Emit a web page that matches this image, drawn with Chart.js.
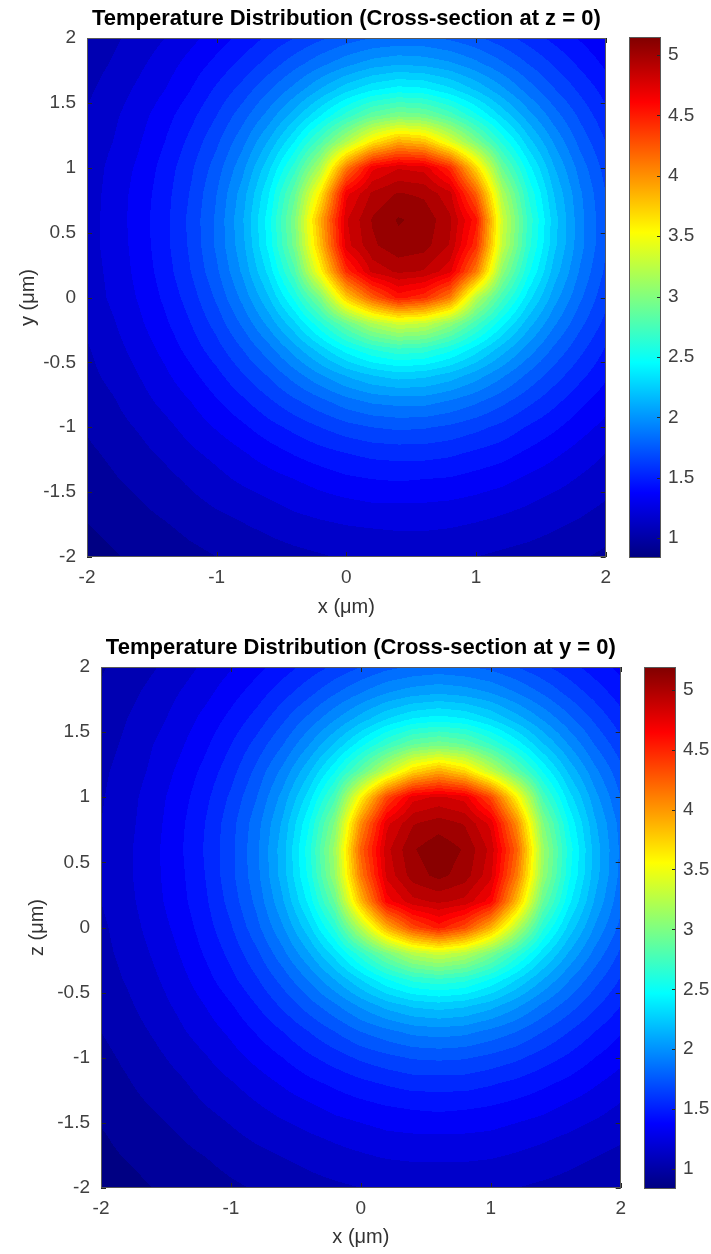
<!DOCTYPE html>
<html><head><meta charset="utf-8">
<script src="https://cdn.jsdelivr.net/npm/chart.js@4.4.1/dist/chart.umd.min.js"></script>
<style>
html,body{margin:0;padding:0;background:#fff;width:711px;height:1254px;overflow:hidden;}
.box{position:absolute;}
canvas{display:block;}
</style></head><body>
<div class="box" style="left:0;top:0;"><canvas id="map1" width="620" height="625"></canvas></div>
<div class="box" style="left:620px;top:0;"><canvas id="cb1" width="91" height="625"></canvas></div>
<div class="box" style="left:0;top:629px;"><canvas id="map2" width="635" height="625"></canvas></div>
<div class="box" style="left:635px;top:629px;"><canvas id="cb2" width="76" height="625"></canvas></div>
<script>
// ---- data ----
const xGrid = [-2,-1.8,-1.6,-1.4,-1.2,-1,-0.8,-0.6,-0.4,-0.2,0,0.2,0.4,0.6,0.8,1,1.2,1.4,1.6,1.8,2];
const yGrid = [2,1.8,1.6,1.4,1.2,1,0.8,0.6,0.4,0.2,0,-0.2,-0.4,-0.6,-0.8,-1,-1.2,-1.4,-1.6,-1.8,-2];

// temperature, cross-section z = 0 (rows: y from 2 down to -2, cols: x from -2 to 2)
const tempZ0 = [
[1.02,1.08,1.14,1.20,1.27,1.35,1.43,1.52,1.60,1.68,1.75,1.80,1.82,1.82,1.78,1.72,1.64,1.56,1.47,1.39,1.31],
[1.05,1.11,1.18,1.25,1.34,1.43,1.53,1.64,1.76,1.87,1.97,2.05,2.09,2.07,2.02,1.93,1.82,1.70,1.59,1.48,1.38],
[1.08,1.15,1.22,1.30,1.40,1.52,1.64,1.79,1.94,2.11,2.27,2.39,2.45,2.43,2.33,2.19,2.03,1.86,1.71,1.58,1.46],
[1.11,1.18,1.26,1.36,1.47,1.60,1.76,1.94,2.16,2.40,2.65,2.87,2.98,2.94,2.77,2.53,2.28,2.05,1.85,1.68,1.53],
[1.13,1.20,1.29,1.40,1.53,1.68,1.87,2.11,2.40,2.77,3.19,3.62,3.89,3.80,3.41,2.98,2.58,2.25,1.99,1.77,1.60],
[1.14,1.23,1.32,1.44,1.58,1.75,1.97,2.27,2.65,3.19,4.10,4.67,4.79,4.76,4.45,3.70,2.90,2.45,2.11,1.86,1.66],
[1.15,1.24,1.34,1.46,1.61,1.80,2.05,2.39,2.87,3.62,4.67,4.92,5.01,4.98,4.83,4.22,3.19,2.60,2.20,1.92,1.70],
[1.16,1.24,1.35,1.47,1.63,1.82,2.09,2.45,2.98,3.89,4.79,5.01,5.11,5.07,4.92,4.54,3.34,2.68,2.25,1.94,1.72],
[1.16,1.24,1.34,1.47,1.62,1.82,2.07,2.43,2.94,3.80,4.76,4.98,5.07,5.04,4.89,4.43,3.29,2.65,2.23,1.94,1.71],
[1.15,1.23,1.33,1.45,1.60,1.78,2.02,2.33,2.77,3.55,4.43,4.83,4.92,4.89,4.73,4.10,3.06,2.53,2.16,1.89,1.68],
[1.14,1.22,1.31,1.42,1.55,1.72,1.93,2.19,2.53,2.98,3.75,4.22,4.54,4.43,4.10,3.23,2.74,2.35,2.05,1.82,1.63],
[1.12,1.19,1.28,1.38,1.50,1.64,1.82,2.03,2.28,2.58,2.90,3.19,3.34,3.29,3.06,2.74,2.43,2.15,1.92,1.73,1.57],
[1.09,1.16,1.24,1.33,1.44,1.56,1.70,1.86,2.05,2.25,2.45,2.60,2.68,2.65,2.53,2.35,2.15,1.96,1.78,1.63,1.49],
[1.07,1.13,1.20,1.28,1.37,1.47,1.59,1.71,1.85,1.99,2.11,2.20,2.25,2.23,2.16,2.05,1.92,1.78,1.65,1.53,1.42],
[1.04,1.09,1.16,1.23,1.30,1.39,1.48,1.58,1.68,1.77,1.86,1.92,1.94,1.94,1.89,1.82,1.73,1.63,1.53,1.43,1.34],
[1.01,1.06,1.11,1.17,1.24,1.31,1.38,1.46,1.53,1.60,1.66,1.70,1.72,1.71,1.68,1.63,1.57,1.49,1.42,1.34,1.27],
[0.98,1.02,1.07,1.12,1.18,1.23,1.29,1.35,1.41,1.46,1.50,1.53,1.54,1.54,1.52,1.48,1.44,1.38,1.32,1.26,1.20],
[0.95,0.99,1.03,1.07,1.12,1.17,1.22,1.26,1.30,1.34,1.38,1.40,1.41,1.40,1.39,1.36,1.33,1.28,1.24,1.19,1.14],
[0.92,0.95,0.99,1.03,1.07,1.11,1.14,1.18,1.22,1.25,1.27,1.29,1.29,1.29,1.28,1.26,1.23,1.20,1.16,1.13,1.09],
[0.89,0.92,0.95,0.98,1.02,1.05,1.08,1.11,1.14,1.16,1.18,1.19,1.20,1.20,1.19,1.17,1.15,1.13,1.10,1.07,1.03],
[0.86,0.89,0.92,0.94,0.97,1.00,1.03,1.05,1.07,1.09,1.11,1.12,1.12,1.12,1.11,1.10,1.08,1.06,1.04,1.01,0.98]
];

// temperature, cross-section y = 0 (rows: z from 2 down to -2, cols: x from -2 to 2)
const tempY0 = [
[0.99,1.04,1.09,1.15,1.22,1.29,1.37,1.45,1.54,1.62,1.70,1.77,1.81,1.83,1.81,1.77,1.70,1.62,1.54,1.45,1.37],
[1.01,1.07,1.13,1.20,1.27,1.36,1.45,1.56,1.67,1.79,1.90,2.00,2.06,2.09,2.06,2.00,1.90,1.79,1.67,1.56,1.45],
[1.04,1.10,1.16,1.24,1.33,1.43,1.54,1.68,1.83,1.99,2.15,2.30,2.41,2.45,2.41,2.30,2.15,1.99,1.83,1.68,1.54],
[1.06,1.12,1.20,1.28,1.38,1.50,1.64,1.80,2.00,2.22,2.47,2.71,2.91,2.98,2.91,2.71,2.47,2.22,2.00,1.80,1.64],
[1.08,1.14,1.22,1.32,1.43,1.56,1.73,1.93,2.18,2.49,2.87,3.30,3.72,3.92,3.72,3.30,2.87,2.49,2.18,1.93,1.73],
[1.09,1.16,1.25,1.35,1.47,1.62,1.80,2.04,2.35,2.77,3.60,4.35,4.76,4.82,4.76,4.35,3.60,2.77,2.35,2.04,1.80],
[1.10,1.17,1.26,1.37,1.50,1.66,1.86,2.12,2.49,3.02,4.05,4.77,4.99,5.05,4.99,4.77,4.05,3.02,2.49,2.12,1.86],
[1.10,1.18,1.27,1.38,1.51,1.67,1.88,2.16,2.56,3.14,4.24,4.87,5.09,5.17,5.09,4.87,4.24,3.14,2.56,2.16,1.88],
[1.10,1.18,1.27,1.37,1.50,1.67,1.87,2.15,2.53,3.10,4.13,4.83,5.05,5.13,5.05,4.83,4.13,3.10,2.53,2.15,1.87],
[1.10,1.17,1.26,1.36,1.48,1.64,1.83,2.09,2.43,2.91,3.85,4.65,4.87,4.92,4.87,4.65,3.85,2.91,2.43,2.09,1.83],
[1.08,1.15,1.24,1.33,1.45,1.59,1.77,1.99,2.27,2.63,3.25,3.90,4.34,4.55,4.34,3.90,3.25,2.63,2.27,1.99,1.77],
[1.07,1.13,1.21,1.30,1.41,1.53,1.68,1.87,2.09,2.35,2.66,2.98,3.24,3.35,3.24,2.98,2.66,2.35,2.09,1.87,1.68],
[1.05,1.11,1.18,1.26,1.36,1.47,1.59,1.74,1.91,2.10,2.30,2.49,2.63,2.68,2.63,2.49,2.30,2.10,1.91,1.74,1.59],
[1.03,1.08,1.15,1.22,1.30,1.39,1.50,1.62,1.75,1.88,2.02,2.14,2.22,2.25,2.22,2.14,2.02,1.88,1.75,1.62,1.50],
[1.00,1.05,1.11,1.18,1.25,1.32,1.41,1.50,1.60,1.70,1.80,1.87,1.93,1.95,1.93,1.87,1.80,1.70,1.60,1.50,1.41],
[0.97,1.02,1.07,1.13,1.19,1.26,1.33,1.40,1.48,1.55,1.62,1.67,1.71,1.72,1.71,1.67,1.62,1.55,1.48,1.40,1.33],
[0.95,0.99,1.04,1.08,1.14,1.19,1.25,1.31,1.37,1.42,1.47,1.51,1.54,1.54,1.54,1.51,1.47,1.42,1.37,1.31,1.25],
[0.92,0.96,1.00,1.04,1.09,1.13,1.18,1.23,1.27,1.32,1.35,1.38,1.40,1.41,1.40,1.38,1.35,1.32,1.27,1.23,1.18],
[0.89,0.93,0.96,1.00,1.04,1.08,1.12,1.15,1.19,1.22,1.25,1.28,1.29,1.29,1.29,1.28,1.25,1.22,1.19,1.15,1.12],
[0.87,0.90,0.93,0.96,0.99,1.03,1.06,1.09,1.12,1.15,1.17,1.19,1.20,1.20,1.20,1.19,1.17,1.15,1.12,1.09,1.06],
[0.84,0.87,0.90,0.92,0.95,0.98,1.01,1.03,1.06,1.08,1.10,1.11,1.12,1.12,1.12,1.11,1.10,1.08,1.06,1.03,1.01]
];

const xTickValues = [-2,-1,0,1,2];
const yTickValues = [-2,-1.5,-1,-0.5,0,0.5,1,1.5,2];
const cbTickValues = [1,1.5,2,2.5,3,3.5,4,4.5,5];
const cbRangeZ0 = [0.835, 5.15];
const cbRangeY0 = [0.833, 5.19];
const contourStep = 0.1;
const titles = ['Temperature Distribution (Cross-section at z = 0)', 'Temperature Distribution (Cross-section at y = 0)'];
const axisTitles = ['x (\u03BCm)', 'y (\u03BCm)', 'z (\u03BCm)'];

// ---- rendering ----
Chart.defaults.font.family = '"Liberation Sans", Arial, Helvetica, sans-serif';
const TICK_COLOR = '#404040';

function jetRGB(t) {
  t = Math.max(0, Math.min(1, t));
  const c = v => Math.round(255 * Math.max(0, Math.min(1, v)));
  return [c(1.5 - Math.abs(4*t - 3)), c(1.5 - Math.abs(4*t - 2)), c(1.5 - Math.abs(4*t - 1))];
}
function jet(t) { const r = jetRGB(t); return 'rgb(' + r[0] + ',' + r[1] + ',' + r[2] + ')'; }

// filled-contour style rendering of the sampled grid (shaded between the sample nodes)
const heatPlugin = {
  id: 'heat',
  beforeDatasetsDraw(chart, args, opts) {
    const {ctx, chartArea: a} = chart;
    const xs = chart.scales.x, ys = chart.scales.y;
    const [lo, hi] = opts.range;
    const grid = opts.grid;
    const nx = xGrid.length, ny = yGrid.length;
    const L = Math.round(a.left), T = Math.round(a.top);
    const W = Math.round(a.right) - L, H = Math.round(a.bottom) - T;
    const img = ctx.createImageData(W, H);
    const d = img.data;
    for (let py = 0; py < H; py++) {
      const yv = ys.getValueForPixel(T + py + 0.5);
      let fj = (yGrid[0] - yv) / (yGrid[0] - yGrid[1]);
      fj = Math.max(0, Math.min(ny - 1.0001, fj));
      const j0 = Math.floor(fj), ty = fj - j0;
      for (let px = 0; px < W; px++) {
        const xv = xs.getValueForPixel(L + px + 0.5);
        let fi = (xv - xGrid[0]) / (xGrid[1] - xGrid[0]);
        fi = Math.max(0, Math.min(nx - 1.0001, fi));
        const i0 = Math.floor(fi), tx = fi - i0;
        const v = (grid[j0][i0] * (1 - tx) + grid[j0][i0 + 1] * tx) * (1 - ty) +
                  (grid[j0 + 1][i0] * (1 - tx) + grid[j0 + 1][i0 + 1] * tx) * ty;
        const lv = (Math.floor(v / opts.step) + 0.5) * opts.step;
        const c = jetRGB((lv - lo) / (hi - lo));
        const k = (py * W + px) * 4;
        d[k] = c[0]; d[k + 1] = c[1]; d[k + 2] = c[2]; d[k + 3] = 255;
      }
    }
    ctx.putImageData(img, L, T);
  },
  afterDatasetsDraw(chart) {
    const {ctx, chartArea: a} = chart;
    const xs = chart.scales.x, ys = chart.scales.y;
    ctx.save();
    ctx.strokeStyle = '#262626'; ctx.lineWidth = 1;
    ctx.beginPath();
    xs.ticks.forEach(t => {
      const px = Math.round(xs.getPixelForValue(t.value)) + 0.5;
      ctx.moveTo(px, a.bottom); ctx.lineTo(px, a.bottom - 5);
      ctx.moveTo(px, a.top); ctx.lineTo(px, a.top + 5);
    });
    ys.ticks.forEach(t => {
      const py = Math.round(ys.getPixelForValue(t.value)) + 0.5;
      ctx.moveTo(a.left, py); ctx.lineTo(a.left + 5, py);
      ctx.moveTo(a.right, py); ctx.lineTo(a.right - 5, py);
    });
    ctx.stroke();
    ctx.strokeStyle = '#595959';
    ctx.strokeRect(Math.round(a.left) + 0.5, Math.round(a.top) + 0.5, Math.round(a.right - a.left) - 1, Math.round(a.bottom - a.top) - 1);
    ctx.restore();
  }
};

const cbPlugin = {
  id: 'cbframe',
  afterDatasetsDraw(chart) {
    const {ctx, chartArea: a} = chart;
    const ys = chart.scales.y;
    ctx.save();
    ctx.strokeStyle = '#262626'; ctx.lineWidth = 1;
    ctx.beginPath();
    ys.ticks.forEach(t => {
      const py = Math.round(ys.getPixelForValue(t.value)) + 0.5;
      ctx.moveTo(a.right, py); ctx.lineTo(a.right - 4, py);
    });
    ctx.stroke();
    ctx.strokeStyle = '#595959';
    ctx.strokeRect(Math.round(a.left) + 0.5, Math.round(a.top) + 0.5, Math.round(a.right - a.left) - 1, Math.round(a.bottom - a.top) - 1);
    ctx.restore();
  }
};

function makeMap(id, grid, range, title, xTitle, yTitle, L) {
  const pts = [];
  yGrid.forEach((yv, j) => xGrid.forEach((xv, i) => pts.push({x: xv, y: yv, v: grid[j][i]})));
  new Chart(document.getElementById(id), {
    type: 'scatter',
    data: {datasets: [{data: pts, pointRadius: 0, pointHoverRadius: 0, showLine: false}]},
    options: {
      responsive: false, animation: false, events: [], devicePixelRatio: 1,
      layout: {padding: {left: 0, right: L.padR, top: 0, bottom: 0}},
      plugins: {
        legend: {display: false}, tooltip: {enabled: false},
        title: {display: true, text: title, color: '#000', fullSize: false,
          font: {size: 22, weight: 'bold'}, padding: {top: L.tTop, bottom: L.tBot}},
        heat: {range: range, grid: grid, step: contourStep}
      },
      scales: {
        x: {type: 'linear', min: -2, max: 2,
          afterBuildTicks: s => { s.ticks = xTickValues.map(v => ({value: v})); },
          afterFit: s => { s.height = L.xh; },
          grid: {display: false, drawTicks: false}, border: {display: false},
          ticks: {padding: L.xpad, color: TICK_COLOR, font: {size: 19}, maxRotation: 0, callback: v => String(v)},
          title: {display: true, text: xTitle, color: '#333', font: {size: 20}, padding: {top: 0, bottom: L.xtb}}},
        y: {type: 'linear', min: -2, max: 2,
          afterBuildTicks: s => { s.ticks = yTickValues.map(v => ({value: v})); },
          afterFit: s => { s.width = L.yw; },
          grid: {display: false, drawTicks: false}, border: {display: false},
          ticks: {padding: 11, color: TICK_COLOR, font: {size: 19}, callback: v => String(v)},
          title: {display: true, text: yTitle, color: '#333', font: {size: 20}, padding: {top: L.ytp, bottom: 0}}}
      }
    },
    plugins: [heatPlugin]
  });
}

function makeBar(id, range, L) {
  new Chart(document.getElementById(id), {
    type: 'bar',
    data: {labels: [''], datasets: [{
      data: [range.slice()],
      backgroundColor: c => {
        const ch = c.chart;
        if (!ch.chartArea) return '#00f';
        const ys = ch.scales.y;
        const g = ch.ctx.createLinearGradient(0, ys.getPixelForValue(range[0]), 0, ys.getPixelForValue(range[1]));
        for (let k = 0; k <= 32; k++) g.addColorStop(k / 32, jet(k / 32));
        return g;
      },
      barPercentage: 1, categoryPercentage: 1, borderWidth: 0, borderSkipped: false
    }]},
    options: {
      responsive: false, animation: false, events: [], devicePixelRatio: 1,
      layout: {padding: {left: L.padL, right: 0, top: L.padT, bottom: L.padB}},
      plugins: {legend: {display: false}, tooltip: {enabled: false}},
      scales: {
        x: {display: false},
        y: {position: 'right', min: range[0], max: range[1],
          afterBuildTicks: s => { s.ticks = cbTickValues.map(v => ({value: v})); },
          afterFit: s => { s.width = L.yw; },
          grid: {display: false, drawTicks: false}, border: {display: false},
          ticks: {padding: 7, color: TICK_COLOR, font: {size: 19}, callback: v => String(v)}}
      }
    },
    plugins: [cbPlugin]
  });
}

makeMap('map1', tempZ0, cbRangeZ0, titles[0], axisTitles[0], axisTitles[1],
  {padR: 13, tTop: 6, tBot: 5.6, xh: 68, xpad: 9, xtb: 6, yw: 87, ytp: 16});
makeBar('cb1', cbRangeZ0, {padL: 9, padT: 37, padB: 67, yw: 50});
makeMap('map2', tempY0, cbRangeY0, titles[1], axisTitles[0], axisTitles[2],
  {padR: 13, tTop: 6, tBot: 5.6, xh: 66, xpad: 9, xtb: 5, yw: 101, ytp: 25});
makeBar('cb2', cbRangeY0, {padL: 9, padT: 38, padB: 65, yw: 35});
</script>
</body></html>
